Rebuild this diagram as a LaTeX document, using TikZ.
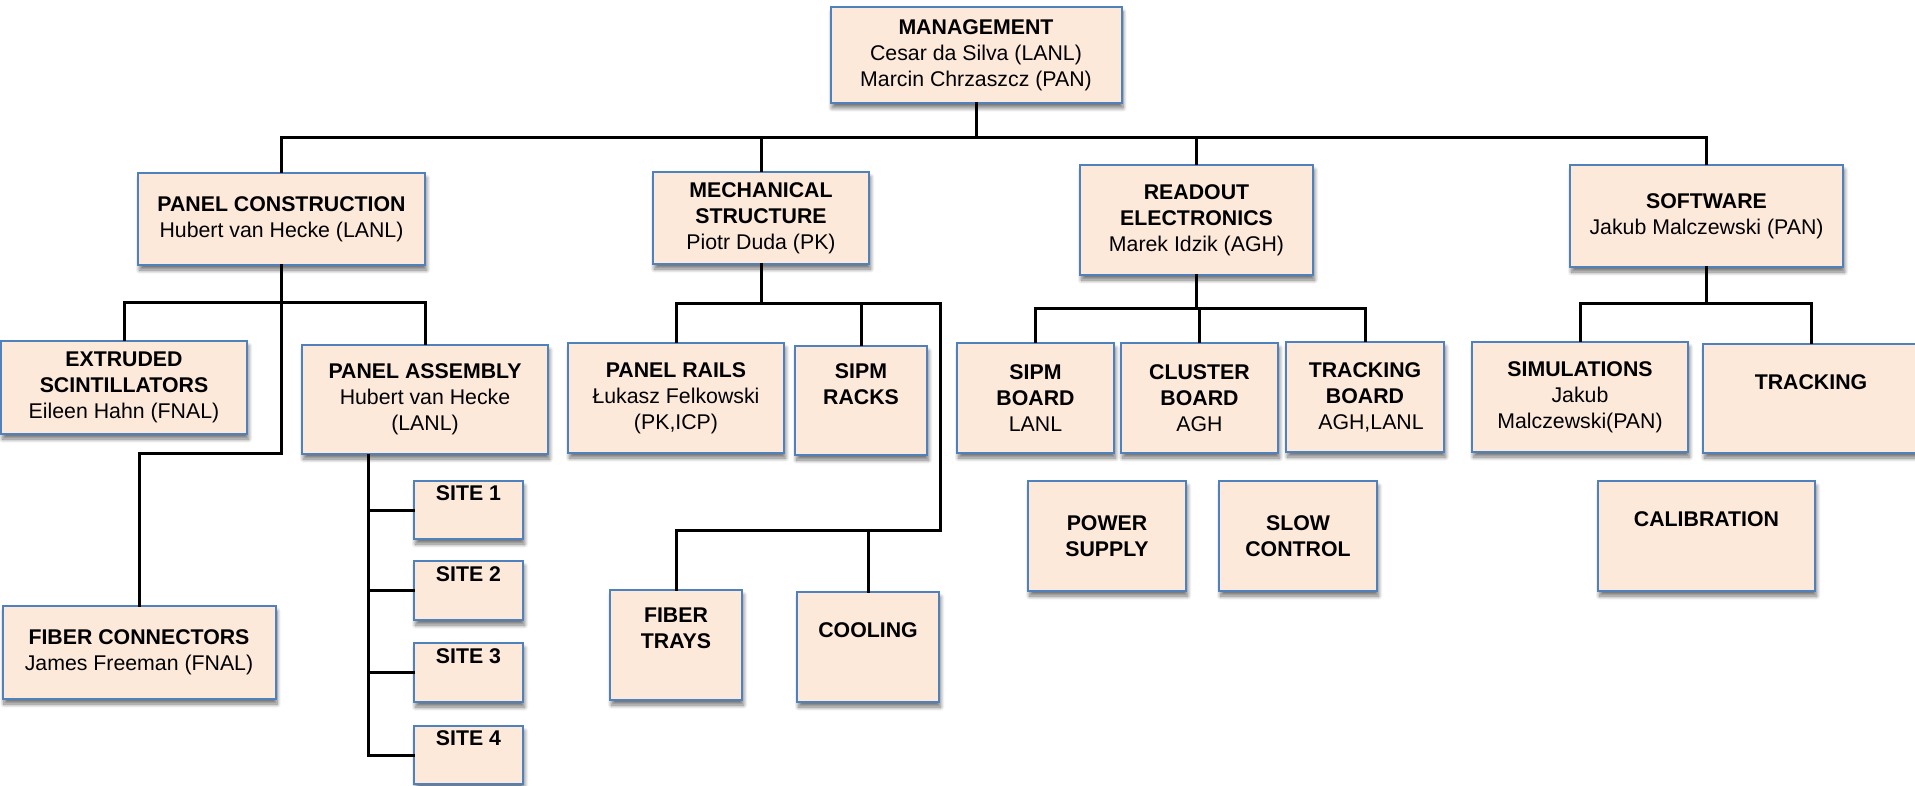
\documentclass[tikz,border=0pt]{standalone}
\usepackage{fontspec}
\setmainfont{Liberation Sans}
\usetikzlibrary{shadows.blur}
\definecolor{boxfill}{RGB}{252,233,218}
\definecolor{boxline}{RGB}{79,129,189}
\tikzset{
  orgbox/.style={draw=boxline, line width=2pt, fill=boxfill, align=center,
    inner sep=0pt, font=\fontsize{21.3}{26}\selectfont,
    blur shadow={shadow xshift=1.5pt, shadow yshift=-5pt, shadow blur steps=8,
      shadow opacity=55, shadow blur radius=4pt}},
  conn/.style={draw=black, line width=3pt, line cap=rect}
}
% box: name, centre x, centre y, width, height, text
\newcommand\orgbox[6]{\node[orgbox, minimum width=#4pt, minimum height=#5pt] (#1) at (#2,#3) {#6};}
\begin{document}
\begin{tikzpicture}[x=1pt, y=-1pt]
\useasboundingbox (0,0) rectangle (1915,786);
\begin{scope}
\clip (0,0) rectangle (1915,786);

% levels of the horizontal bus lines and vertical spines
\coordinate (bus1) at (0,138);
\coordinate (bus2) at (0,303);
\coordinate (bus3) at (0,453);
\coordinate (bus4) at (0,304);
\coordinate (bus5) at (0,530);
\coordinate (bus6) at (0,309);
\coordinate (bus7) at (0,304);
\coordinate (spine) at (368,0);
\coordinate (mechR) at (940,0);

% boxes
\orgbox{mgmt}{976}{55}{291}{96}{\textbf{MANAGEMENT}\\Cesar da Silva (LANL)\\Marcin Chrzaszcz (PAN)}

\orgbox{pc}{281.5}{219}{287}{92}{\textbf{PANEL CONSTRUCTION}\\Hubert van Hecke (LANL)}
\orgbox{mech}{761}{218}{216}{92}{\textbf{MECHANICAL}\\\textbf{STRUCTURE}\\Piotr Duda (PK)}
\orgbox{ro}{1196.5}{220}{233}{110}{\textbf{READOUT}\\\textbf{ELECTRONICS}\\Marek Idzik (AGH)}
\orgbox{sw}{1706.5}{216}{273}{102}{\textbf{SOFTWARE}\\Jakub Malczewski (PAN)}

\orgbox{ext}{124}{387.5}{246}{93}{\textbf{EXTRUDED}\\\textbf{SCINTILLATORS}\\Eileen Hahn (FNAL)}
\orgbox{pa}{425}{399.5}{246}{109}{\textbf{PANEL ASSEMBLY}\\Hubert van Hecke\\(LANL)}
\orgbox{fc}{139}{652.5}{273}{93}{\textbf{FIBER CONNECTORS}\\James Freeman (FNAL)}
\orgbox{site1}{468.5}{510}{109}{58}{\textbf{SITE 1}\\\strut}
\orgbox{site2}{468.5}{590.5}{109}{59}{\textbf{SITE 2}\\\strut}
\orgbox{site3}{468.5}{672.5}{109}{59}{\textbf{SITE 3}\\\strut}
\orgbox{site4}{468.5}{755}{109}{58}{\textbf{SITE 4}\\\strut}

\orgbox{prails}{676}{398}{216}{110}{\textbf{PANEL RAILS}\\Łukasz Felkowski\\(PK,ICP)}
\orgbox{racks}{861}{400.5}{132}{109}{\textbf{SIPM}\\\textbf{RACKS}\\\strut}
\orgbox{trays}{676}{645}{132}{110}{\textbf{FIBER}\\\textbf{TRAYS}\\\strut}
\orgbox{cool}{868}{647}{142}{110}{\textbf{COOLING}\\\strut}

\orgbox{sipmb}{1035.5}{398}{157}{110}{\textbf{SIPM}\\\textbf{BOARD}\\LANL}
\orgbox{clus}{1199.5}{398}{157}{110}{\textbf{CLUSTER}\\\textbf{BOARD}\\AGH}
\orgbox{trkb}{1365}{397}{158}{110}{\textbf{TRACKING}\\\textbf{BOARD}\\\hspace*{12pt}AGH,LANL}
\orgbox{power}{1107}{536}{158}{110}{\textbf{POWER}\\\textbf{SUPPLY}}
\orgbox{slow}{1298}{536}{158}{110}{\textbf{SLOW}\\\textbf{CONTROL}}

\orgbox{sim}{1580}{397}{216}{110}{\textbf{SIMULATIONS}\\Jakub\\Malczewski(PAN)}
\orgbox{trk}{1811}{398.5}{216}{109}{\textbf{TRACKING}\\\strut}
\orgbox{calib}{1706.5}{536}{217}{110}{\textbf{CALIBRATION}\\\strut}

% top level
\draw[conn] (mgmt.south) -- (mgmt.south |- bus1);
\draw[conn] (pc.north) -- (pc.north |- bus1) -- (sw.north |- bus1) -- (sw.north);
\draw[conn] (mech.north) -- (mech.north |- bus1);
\draw[conn] (ro.north) -- (ro.north |- bus1);

% panel construction
\draw[conn] (pc.south) -- (pc.south |- bus2);
\draw[conn] (ext.north) -- (ext.north |- bus2) -- (pa.north |- bus2) -- (pa.north);
\draw[conn] (pc.south |- bus2) -- (pc.south |- bus3) -- (fc.north |- bus3) -- (fc.north);
\draw[conn] (spine |- pa.south) -- (spine |- site4.west) -- (site4.west);
\draw[conn] (spine |- site1.west) -- (site1.west);
\draw[conn] (spine |- site2.west) -- (site2.west);
\draw[conn] (spine |- site3.west) -- (site3.west);

% mechanical structure
\draw[conn] (mech.south) -- (mech.south |- bus4);
\draw[conn] (prails.north) -- (prails.north |- bus4) -- (mechR |- bus4)
  -- (mechR |- bus5) -- (trays.north |- bus5) -- (trays.north);
\draw[conn] (racks.north) -- (racks.north |- bus4);
\draw[conn] (cool.north) -- (cool.north |- bus5);

% readout electronics
\draw[conn] (ro.south) -- (ro.south |- bus6);
\draw[conn] (sipmb.north) -- (sipmb.north |- bus6) -- (trkb.north |- bus6) -- (trkb.north);
\draw[conn] (clus.north) -- (clus.north |- bus6);

% software
\draw[conn] (sw.south) -- (sw.south |- bus7);
\draw[conn] (sim.north) -- (sim.north |- bus7) -- (trk.north |- bus7) -- (trk.north);
\end{scope}
\end{tikzpicture}
\end{document}
